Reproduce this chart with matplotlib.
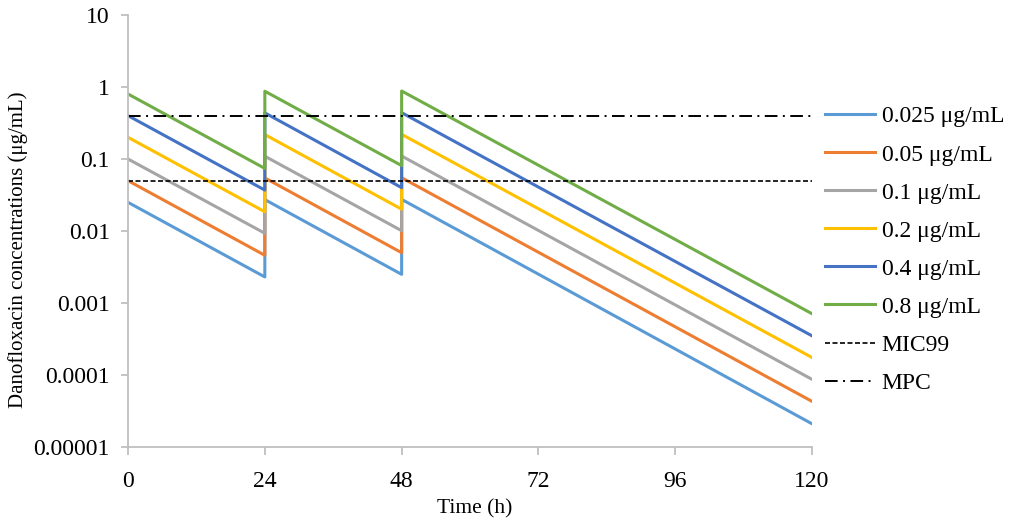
import matplotlib
matplotlib.use("Agg")
import matplotlib.pyplot as plt

plt.rcParams['font.family'] = ['Liberation Serif', 'DejaVu Serif']

# time points (dose at 0, 24, 48 h -> a jump at 24 and 48)
time_h = [0, 24, 24, 48, 48, 120]

doses = ['0.025 μg/mL', '0.05 μg/mL', '0.1 μg/mL', '0.2 μg/mL', '0.4 μg/mL', '0.8 μg/mL']
conc = [
    [0.025, 0.0023, 0.0273, 0.0025, 0.0275, 0.000021],
    [0.05, 0.0046, 0.0546, 0.0050, 0.0550, 0.000043],
    [0.1, 0.0093, 0.1093, 0.0101, 0.1101, 0.000087],
    [0.2, 0.0185, 0.2185, 0.0201, 0.2201, 0.000175],
    [0.4, 0.037, 0.437, 0.040, 0.440, 0.00035],
    [0.8, 0.074, 0.874, 0.081, 0.881, 0.00071],
]
colors = ['#5B9BD5', '#ED7D31', '#A5A5A5', '#FFC000', '#4472C4', '#70AD47']

mic99 = 0.05
mpc = 0.4

fig = plt.figure(figsize=(10.13, 5.27), dpi=100)
ax = fig.add_axes([0.1264, 0.1518, 0.6752, 0.8197])

for lab, y, c in zip(doses, conc, colors):
    ax.plot(time_h, y, color=c, lw=2.2, label=lab)

ax.plot([0, 120], [mic99, mic99], color='black', lw=1.2, ls=(0, (3, 1.5)), label='MIC99')
ax.plot([0, 120], [mpc, mpc], color='black', lw=1.4, ls=(0, (6.5, 2.8, 1, 2.8)), label='MPC')

ax.set_yscale('log')
ax.set_ylim(0.00001, 10)
ax.set_xlim(0, 120)
ax.set_xticks([0, 24, 48, 72, 96, 120])
yt = [0.00001, 0.0001, 0.001, 0.01, 0.1, 1, 10]
ax.set_yticks(yt)
ax.set_yticklabels(['0.00001', '0.0001', '0.001', '0.01', '0.1', '1', '10'])
ax.minorticks_off()

for s in ['top', 'right']:
    ax.spines[s].set_visible(False)
for s in ['left', 'bottom']:
    ax.spines[s].set_color('#BFBFBF')
    ax.spines[s].set_linewidth(1.3)
ax.tick_params(axis='both', colors='#BFBFBF', labelcolor='black', labelsize=17, width=1.3)
ax.tick_params(axis='x', length=6, pad=11)
ax.tick_params(axis='y', length=5, pad=8)

ax.set_xlabel('Time (h)', fontsize=15.5)
ax.set_ylabel('Danofloxacin concentrations (μg/mL)', fontsize=15)
ax.xaxis.set_label_coords(0.507, -0.120)
ax.yaxis.set_label_coords(-0.146, 0.456)

ax.legend(loc='upper left', bbox_to_anchor=(0.8144, 0.799), bbox_transform=fig.transFigure,
          frameon=False, fontsize=17, borderpad=0, borderaxespad=0,
          handlelength=2.1, handletextpad=0.3, labelspacing=0.7)

fig.savefig('out.png', dpi=100)
